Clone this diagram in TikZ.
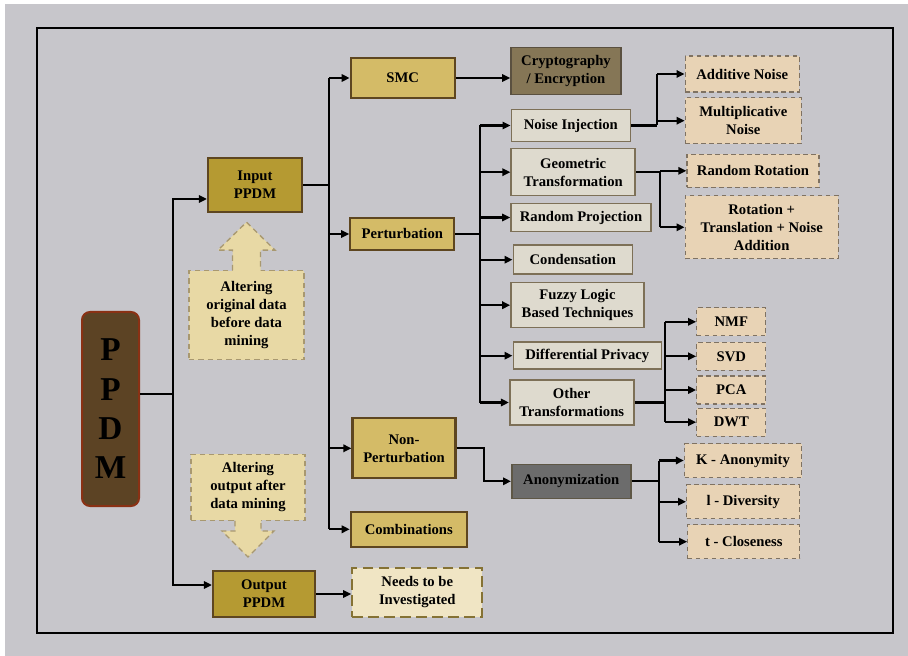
\documentclass[tikz,border=0pt]{standalone}
\usepackage{fontspec}
\setmainfont{Liberation Serif}
\usepackage{xcolor}
\usetikzlibrary{positioning}
\usetikzlibrary{arrows.meta}
\usetikzlibrary{calc}

\definecolor{bggrey}{HTML}{C7C6CB}
\definecolor{ppdmfill}{HTML}{5C4324}
\definecolor{ppdmline}{HTML}{8A3114}
\definecolor{darkgold}{HTML}{B59A32}
\definecolor{gold}{HTML}{D4BB67}
\definecolor{goldline}{HTML}{5E4620}
\definecolor{cryptofill}{HTML}{857656}
\definecolor{cryptoline}{HTML}{5A5040}
\definecolor{lightfill}{HTML}{DEDACE}
\definecolor{lightline}{HTML}{7D7057}
\definecolor{peach}{HTML}{E8D3B5}
\definecolor{peachline}{HTML}{7F7262}
\definecolor{altfill}{HTML}{E8D9A5}
\definecolor{altline}{HTML}{A89870}
\definecolor{needsfill}{HTML}{F0E5C4}
\definecolor{needsline}{HTML}{857234}
\definecolor{anonfill}{HTML}{6C6C6C}
\definecolor{anonline}{HTML}{5E5746}

\tikzset{
  size/.style 2 args={minimum width=#1*0.75pt, minimum height=#2*0.75pt},
  box/.style={align=center, inner sep=1pt, font=\bfseries\fontsize{11}{13.5}\selectfont},
  ppdmbox/.style={box, fill=ppdmfill, draw=ppdmline, line width=1.5pt, rounded corners=6pt,
    font=\bfseries\fontsize{25}{29.5}\selectfont},
  mainbox/.style={box, fill=darkgold, draw=goldline, line width=1.6pt},
  goldbox/.style={box, fill=gold, draw=goldline, line width=1.6pt},
  cryptobox/.style={box, fill=cryptofill, draw=cryptoline, line width=1.2pt},
  techbox/.style={box, fill=lightfill, draw=lightline, line width=1.2pt},
  leafbox/.style={box, fill=peach, draw=peachline, line width=1pt, dash pattern=on 3.5pt off 2.5pt},
  altbox/.style={box, fill=altfill, draw=altline, line width=1pt, dash pattern=on 4pt off 3pt},
  needsbox/.style={box, fill=needsfill, draw=needsline, line width=1.6pt, dash pattern=on 8pt off 4pt},
  anonbox/.style={box, fill=anonfill, draw=anonline, line width=1.2pt},
  bar/.style={line width=1.6pt},
  link/.style={line width=1.6pt, -{Triangle[length=6pt,width=5.5pt]}},
}

\begin{document}
\begin{tikzpicture}[x=0.75pt,y=-0.75pt]

% Page and frame
\useasboundingbox (0,0) rectangle (908,656);
\fill[white] (0,0) rectangle (908,656);
\fill[bggrey] (5,4) rectangle (908,656);
\draw[line width=2pt] (37,28) rectangle (893,633);

% Root and first level
\node[ppdmbox, size={57}{194}] (ppdm) at (110.5,409) {P\\P\\D\\M};
\node[mainbox, size={94}{54}] (input) at (255,185) {Input\\PPDM};
\node[mainbox, size={102}{46}] (output) at (264,594) {Output\\PPDM};

% Notes with block arrows
\node[altbox, size={115}{89}] (altin) at (246.5,315.3) {Altering\\original data\\before data\\mining};
\node[altbox, size={114}{66}] (altout) at (248,487.3) {Altering\\output after\\data mining};

\fill[altfill] ($(altin.north)+(-14,2)$) -- ++(0,-22) -- ++(-14.5,0) -- ++(28.5,-28)
  -- ++(28.5,28) -- ++(-14.5,0) -- ++(0,22) -- cycle;
\draw[altline, line width=1pt, dash pattern=on 4pt off 3pt] ($(altin.north)+(-14,0)$) -- ++(0,-20)
  -- ++(-14.5,0) -- ++(28.5,-28) -- ++(28.5,28) -- ++(-14.5,0) -- ++(0,20);

\fill[altfill] ($(altout.south)+(-13,-2)$) -- ++(0,12) -- ++(-13,0) -- ++(26,26)
  -- ++(26,-26) -- ++(-13,0) -- ++(0,-12) -- cycle;
\draw[altline, line width=1pt, dash pattern=on 4pt off 3pt] ($(altout.south)+(-13,0)$) -- ++(0,10)
  -- ++(-13,0) -- ++(26,26) -- ++(26,-26) -- ++(-13,0) -- ++(0,-10);

% Second level
\node[goldbox, size={104}{40}] (smc) at (402.7,78) {SMC};
\node[goldbox, size={104}{32}] (pert) at (402.3,234) {Perturbation};
\node[goldbox, size={103}{60}] (nonpert) at (404,448.3) {Non-\\Perturbation};
\node[goldbox, size={116}{35}] (comb) at (408.8,529.3) {Combinations};
\node[needsbox, size={130}{49}] (needs) at (417.3,592.5) {Needs to be\\Investigated};

% Third level
\node[cryptobox, size={110}{47}] (crypto) at (566,71.2) {Cryptography\\/ Encryption};
\node[techbox, size={119}{32}] (noise) at (570.8,125.5) {Noise Injection};
\node[techbox, size={124}{47}] (geom) at (573.2,172.2) {Geometric\\Transformation};
\node[techbox, size={140}{28}] (randproj) at (581,217.5) {Random Projection};
\node[techbox, size={119}{29}] (cond) at (572.8,259.7) {Condensation};
\node[techbox, size={133}{45}] (fuzzy) at (577.5,305.2) {Fuzzy Logic\\Based Techniques};
\node[techbox, size={148}{27}] (diffp) at (587.3,355.7) {Differential Privacy};
\node[techbox, size={124}{45}] (other) at (571.7,402.5) {Other\\Transformations};
\node[anonbox, size={119}{34}] (anon) at (571.3,481.3) {Anonymization};

% Leaves
\node[leafbox, size={114}{36}] (addn) at (742.2,74) {Additive Noise};
\node[leafbox, size={116}{46}] (multn) at (743.3,120.7) {Multiplicative\\Noise};
\node[leafbox, size={132}{33}] (rrot) at (753,170.8) {Random Rotation};
\node[leafbox, size={153}{63}] (rtn) at (761.7,227.3) {Rotation +\\Translation + Noise\\Addition};
\node[leafbox, size={69}{28}] (nmf) at (731.3,321.8) {NMF};
\node[leafbox, size={69}{28}] (svd) at (731.3,356.3) {SVD};
\node[leafbox, size={69}{28}] (pca) at (731.3,390) {PCA};
\node[leafbox, size={69}{28}] (dwt) at (731.3,422.2) {DWT};
\node[leafbox, size={117}{34}] (kanon) at (743,460.5) {K - Anonymity};
\node[leafbox, size={113}{34}] (ldiv) at (743.2,501.7) {l - Diversity};
\node[leafbox, size={112}{34}] (tclose) at (743.8,541.7) {t - Closeness};

% Bus positions
\coordinate (b0) at (173,394);
\coordinate (b1) at (329,188);
\coordinate (b2) at (480,231);
\coordinate (b3) at (657,130);
\coordinate (b4) at (660,177);
\coordinate (b5) at (665,402);
\coordinate (b6) at (484,448);
\coordinate (b7) at (659,484);

% PPDM to input / output
\draw[bar] (ppdm.east |- b0) -- (b0);
\draw[link] (b0) |- ($(input.west)+(0,14)$);
\draw[link] (b0) |- ($(output.west)+(0,-9)$);
\draw[link] (output.east) -- (output.east -| needs.west);

% Input PPDM branches
\draw[bar] (input) -- (input -| b1);
\draw[bar] (b1 |- smc) -- (b1 |- comb);
\foreach \n in {smc,pert,nonpert,comb}
  \draw[link] (b1 |- \n) -- (\n);
\draw[link] (smc.east) -- (smc.east -| crypto.west);

% Perturbation branches
\draw[bar] (pert) -- (pert -| b2);
\draw[bar] (b2 |- noise) -- (b2 |- other);
\foreach \n in {noise,geom,randproj,cond,fuzzy,diffp,other}
  \draw[link] (b2 |- \n) -- (\n);

% Noise injection
\draw[bar] (noise) -- (noise -| b3);
\draw[bar] (b3 |- addn) -- (b3 |- noise);
\foreach \n in {addn,multn}
  \draw[link] (b3 |- \n) -- (\n);

% Geometric transformation
\draw[bar] (geom) -- (geom -| b4);
\draw[bar] (b4 |- rrot) -- (b4 |- rtn);
\foreach \n in {rrot,rtn}
  \draw[link] (b4 |- \n) -- (\n);

% Other transformations
\draw[bar] (other) -- (other -| b5);
\draw[bar] (b5 |- nmf) -- (b5 |- dwt);
\foreach \n in {nmf,svd,pca,dwt}
  \draw[link] (b5 |- \n) -- (\n);

% Non-perturbation
\draw[link] (nonpert) -- (nonpert -| b6) |- (anon);
\draw[bar] (anon) -- (anon -| b7);
\draw[bar] (b7 |- kanon) -- (b7 |- tclose);
\foreach \n in {kanon,ldiv,tclose}
  \draw[link] (b7 |- \n) -- (\n);

\end{tikzpicture}
\end{document}
